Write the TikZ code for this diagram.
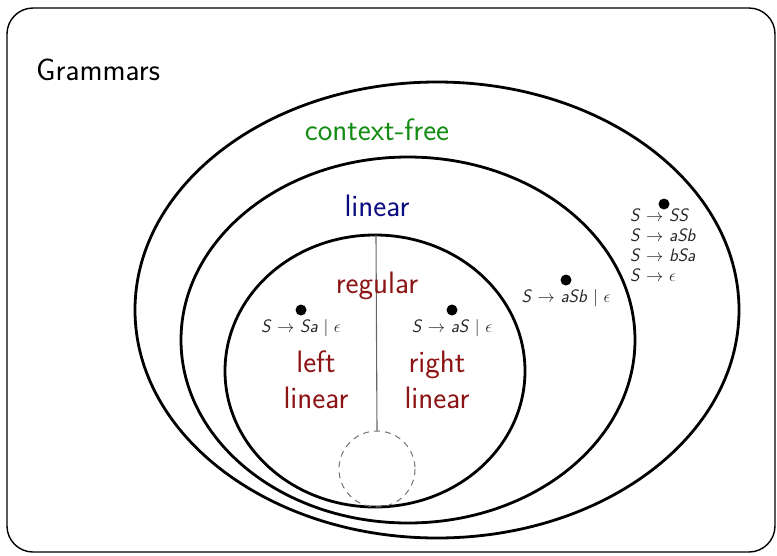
\documentclass[tikz,border=0pt]{standalone}
\usepackage{amsmath}
\renewcommand{\familydefault}{\sfdefault}
\definecolor{cfgreen}{RGB}{20,140,20}
\definecolor{linblue}{RGB}{10,10,130}
\definecolor{regred}{RGB}{140,20,20}
\newcommand{\sv}[1]{\textit{#1}}
\newcommand{\arr}{\ $\to$\ }
\begin{document}
\begin{tikzpicture}[x=1pt,y=-1pt,
  setline/.style={line width=2.8pt},
  big/.style={font=\fontsize{31}{36}\selectfont, inner sep=0pt},
  rule/.style={font=\fontsize{18}{20}\selectfont, inner sep=0pt, text=black!85},
  dot/.style={circle, fill=black, inner sep=0pt, minimum size=11pt}]
\useasboundingbox (0,0) rectangle (777,555);
% outer frame
\draw[line width=1.4pt, rounded corners=26pt] (7,8) rectangle (775,552);
\node[big, anchor=west] (title) at (36,70) {Grammars};

% nested classes
\draw[setline] (437,310) ellipse [x radius=302, y radius=228];
\draw[setline] (408,340) ellipse [x radius=227, y radius=183];
\draw[setline] (375,371) ellipse [x radius=150, y radius=136];

% split between left and right linear
\coordinate (regtop) at (376,235);
\draw[black!55, line width=1pt, dash pattern=on 6pt off 5pt] (377,469) circle [radius=38];
\coordinate (holetop) at (377,431);
\draw[black!60, line width=1.1pt] (regtop) -- (holetop);

% class names
\node[big, text=cfgreen] (cf) at (377,130) {context-free};
\node[big, text=linblue] (lin) at (377,206) {linear};
\node[big, text=regred] (reg) at (377,286) {regular};
\node[big, text=regred, align=center] (ll) at (316,380) {left\\[0pt]linear};
\node[big, text=regred, align=center] (rl) at (437,380) {right\\[0pt]linear};

% example grammars
\node[dot] (d1) at (301,310) {};
\node[rule] (g1) at (301,328) {\sv{S}\arr\sv{Sa} $|$ $\epsilon$};
\node[dot] (d2) at (452,310) {};
\node[rule] (g2) at (452,328) {\sv{S}\arr\sv{aS} $|$ $\epsilon$};
\node[dot] (d3) at (566,280) {};
\node[rule] (g3) at (566,298) {\sv{S}\arr\sv{aSb} $|$ $\epsilon$};
\node[dot] (d4) at (664,204) {};
\node[rule, anchor=north west, align=left] (g4) at (630,209)
  {\sv{S}\arr\sv{SS}\\ \sv{S}\arr\sv{aSb}\\ \sv{S}\arr\sv{bSa}\\ \sv{S}\arr$\epsilon$};
\end{tikzpicture}
\end{document}
